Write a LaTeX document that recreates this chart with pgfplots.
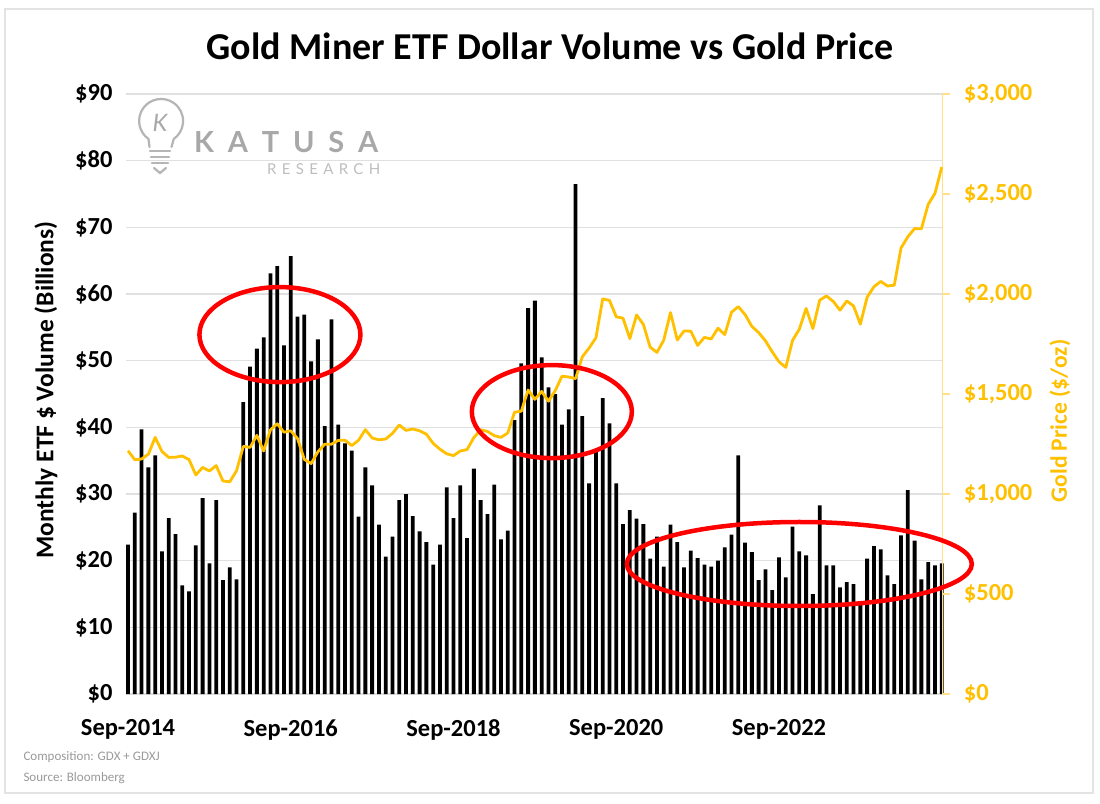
\documentclass[border=0pt]{standalone}
\usepackage{pgfplots}
\usepackage{pgfplotstable}
\pgfplotsset{compat=1.18}
\usepackage{fontspec}
\setmainfont{Carlito}
\newfontfamily\logofont{Lato}
\definecolor{goldc}{HTML}{FFC000}
\definecolor{goldax}{HTML}{FFE08A}
\definecolor{gridc}{HTML}{E0E0E0}
\definecolor{ellred}{HTML}{FF0000}
\definecolor{logogray}{HTML}{A8A8A8}
\definecolor{notegray}{HTML}{9A9A9A}

% i = month index (0 = Sep-2014), vol = ETF $ volume (billions), gold = gold price ($/oz)
\pgfplotstableread{
i vol gold
0 22.4 1216
1 27.2 1171
2 39.7 1175
3 34.0 1199
4 35.8 1283
5 21.4 1213
6 26.4 1183
7 24.0 1184
8 16.3 1190
9 15.4 1172
10 22.3 1095
11 29.4 1133
12 19.6 1115
13 29.1 1142
14 17.1 1065
15 19.0 1061
16 17.2 1116
17 43.8 1238
18 49.1 1233
19 51.8 1293
20 53.5 1215
21 63.1 1321
22 64.2 1351
23 52.3 1309
24 65.7 1316
25 56.6 1277
26 56.9 1173
27 49.9 1152
28 53.2 1211
29 40.2 1249
30 56.2 1249
31 40.4 1268
32 37.6 1269
33 36.5 1242
34 26.6 1269
35 34.0 1322
36 31.3 1280
37 25.4 1271
38 20.6 1275
39 23.6 1303
40 29.1 1345
41 30.0 1318
42 26.7 1325
43 24.4 1316
44 22.8 1299
45 19.4 1253
46 22.4 1224
47 31.0 1201
48 26.4 1192
49 31.3 1215
50 23.4 1222
51 33.8 1282
52 29.1 1321
53 27.0 1313
54 31.4 1292
55 23.2 1283
56 24.5 1305
57 41.1 1409
58 49.6 1414
59 57.9 1520
60 59.0 1473
61 50.5 1513
62 46.0 1464
63 45.0 1517
64 40.4 1589
65 42.7 1585
66 76.5 1577
67 41.7 1686
68 31.6 1730
69 36.4 1781
70 44.4 1975
71 40.6 1968
72 31.6 1886
73 25.5 1879
74 27.6 1777
75 26.3 1895
76 25.5 1848
77 20.3 1734
78 23.6 1708
79 19.1 1769
80 25.4 1907
81 22.8 1770
82 19.0 1815
83 21.5 1814
84 20.4 1743
85 19.4 1783
86 19.1 1775
87 20.0 1829
88 22.0 1797
89 23.9 1909
90 35.8 1937
91 22.7 1897
92 21.3 1838
93 17.1 1807
94 18.7 1766
95 15.6 1711
96 20.5 1661
97 17.5 1633
98 25.1 1768
99 21.4 1824
100 20.8 1928
101 15.0 1827
102 28.3 1969
103 19.3 1990
104 19.3 1963
105 16.0 1919
106 16.8 1965
107 16.5 1940
108 13.8 1849
109 20.3 1984
110 22.2 2036
111 21.7 2063
112 17.8 2040
113 16.5 2044
114 23.8 2230
115 30.6 2286
116 23.0 2327
117 17.2 2326
118 19.8 2448
119 19.3 2503
120 19.6 2634
}\datatab

\begin{document}
\begin{tikzpicture}[x=1pt,y=1pt]
\useasboundingbox (0,0) rectangle (1100,803);
\fill[white] (0,0) rectangle (1100,803);
\draw[gray!22, line width=1.5pt] (5,10) rectangle (1093,794);

% title
\node[font=\fontsize{38}{44}\selectfont\bfseries] at (550,757) {Gold Miner ETF Dollar Volume vs Gold Price};

\begin{axis}[
  at={(126pt,109pt)}, anchor=south west,
  scale only axis, width=816.4pt, height=600pt,
  xmin=-0.3, xmax=120.1, ymin=0, ymax=90,
  axis line style={draw=none},
  major tick length=0pt,
  ytick={0,10,...,90},
  yticklabels={\$0,\$10,\$20,\$30,\$40,\$50,\$60,\$70,\$80,\$90},
  xtick={0,24,48,72,96},
  xticklabels={Sep-2014,Sep-2016,Sep-2018,Sep-2020,Sep-2022},
  ymajorgrids, grid style={gridc, line width=1.2pt},
  tick label style={font=\fontsize{24.5}{28}\selectfont\bfseries},
  yticklabel style={xshift=-10pt},
  xticklabel style={yshift=-22pt},
  clip=false,
]
\addplot[ybar, bar width=3.8pt, fill=black, draw=none] table[x=i, y=vol] {\datatab};
\end{axis}

\begin{axis}[
  at={(126pt,109pt)}, anchor=south west,
  scale only axis, width=816.4pt, height=600pt,
  xmin=-0.3, xmax=120.1, ymin=0, ymax=3000,
  axis x line=none,
  axis y line*=right,
  axis line style={-, goldax, line width=1.2pt},
  ytick={0,500,...,3000},
  yticklabels={{\$0},{\$500},{\$1,000},{\$1,500},{\$2,000},{\$2,500},{\$3,000}},
  ytick style={goldax, line width=1.2pt},
  tick align=outside, major tick length=8pt,
  yticklabel style={text=goldc, font=\fontsize{24.5}{28}\selectfont\bfseries, xshift=10pt},
  clip=false,
]
\addplot[goldc, line width=2.8pt, line join=round] table[x=i, y=gold] {\datatab};
\draw[ellred, line width=4.5pt] (axis cs:22.4,1797) ellipse [x radius=80.5pt, y radius=47.5pt];
\draw[ellred, line width=4.5pt] (axis cs:62.5,1412) ellipse [x radius=80pt, y radius=46.5pt];
\draw[ellred, line width=4.5pt] (axis cs:99.0,650) ellipse [x radius=172.5pt, y radius=42pt];
\end{axis}

% axis titles
\node[rotate=90, font=\fontsize{25.5}{28}\selectfont\bfseries] at (46,413) {Monthly ETF \$ Volume (Billions)};
\node[rotate=90, text=goldc, font=\fontsize{23.5}{26}\selectfont\bfseries] at (1060,382) {Gold Price (\$/oz)};

% notes
\node[anchor=west, text=notegray, font=\fontsize{13}{15}\selectfont] at (20,46) {Composition: GDX + GDXJ};
\node[anchor=west, text=notegray, font=\fontsize{13}{15}\selectfont] at (20,25) {Source: Bloomberg};

% watermark logo
\begin{scope}[logogray!85, line width=2.2pt, line cap=round]
  \draw (149.5,656) -- (148.5,664) arc[start angle=235, end angle=-55, radius=22] -- (171.5,656);
  \draw (150,652) -- (170,652);
  \draw (151,646) -- (169,646);
  \draw (152,640) -- (168,640);
  \draw (154,635) -- (160,630) -- (166,635);
\end{scope}
\node[text=logogray, font=\logofont\fontsize{24}{26}\selectfont\itshape] at (160,680) {K};
\node[anchor=base west, inner sep=0, text=logogray, font=\logofont\bfseries\fontsize{29}{32}\selectfont] at (194,650)
  {\hbox to 184pt{K\hfill A\hfill T\hfill U\hfill S\hfill A}};
\node[anchor=base west, inner sep=0, text=logogray!75, font=\logofont\fontsize{15}{17}\selectfont] at (267,628)
  {\hbox to 113pt{R\hfill E\hfill S\hfill E\hfill A\hfill R\hfill C\hfill H}};
\end{tikzpicture}
\end{document}
